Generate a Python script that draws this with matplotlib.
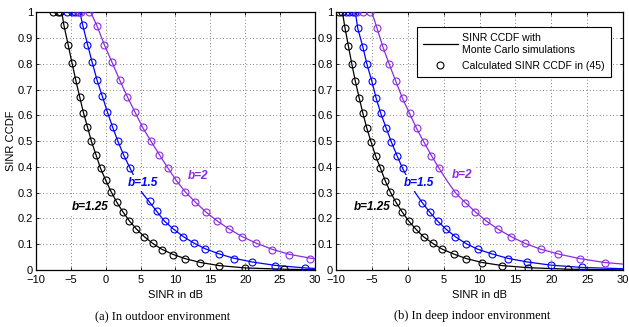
import matplotlib
matplotlib.use("Agg")
import matplotlib.pyplot as plt
from matplotlib.lines import Line2D

# ---- (a) outdoor: Monte Carlo lines ----
out_k_x = [-6.3, -6.0, -5.4, -4.85, -4.3, -3.75, -3.2, -2.6, -2.05, -1.4, -0.75, 0.0, 0.75, 1.6, 2.5, 3.4, 4.4, 5.5, 6.7, 8.0, 9.6, 11.4, 13.6, 16.3, 20.0, 25.5, 30.0]
out_k_y = [1.0, 0.95, 0.875, 0.805, 0.737, 0.673, 0.611, 0.553, 0.499, 0.447, 0.395, 0.348, 0.305, 0.262, 0.224, 0.19, 0.159, 0.13, 0.104, 0.081, 0.061, 0.044, 0.029, 0.017, 0.008, 0.003, 0.001]
out_b_x = [-3.7, -3.3, -2.6, -1.95, -1.25, -0.5, 0.25, 1.0, 1.75, 2.55, 3.45, 4.4, 5.2, 6.2, 7.3, 8.4, 9.7, 11.1, 12.6, 14.3, 16.2, 18.3, 21.0, 24.3, 28.6, 30.0]
out_b_y = [1.0, 0.95, 0.874, 0.806, 0.737, 0.675, 0.612, 0.553, 0.499, 0.447, 0.397, 0.345, 0.30, 0.266, 0.228, 0.19, 0.159, 0.13, 0.105, 0.082, 0.063, 0.046, 0.031, 0.018, 0.008, 0.006]
out_p_x = [-2.15, -1.25, -0.2, 0.9, 2.0, 3.1, 4.2, 5.3, 6.5, 7.7, 8.9, 10.1, 11.4, 12.9, 14.4, 16.0, 17.7, 19.6, 21.6, 23.9, 26.3, 29.3, 30.0]
out_p_y = [1.0, 0.947, 0.874, 0.806, 0.737, 0.672, 0.612, 0.553, 0.499, 0.447, 0.396, 0.348, 0.303, 0.262, 0.224, 0.19, 0.159, 0.129, 0.104, 0.08, 0.061, 0.046, 0.044]

# ---- (a) outdoor: calculated circles ----
out_kc_x = [-7.57, -6.86, -6.57, -6.0, -5.38, -4.86, -4.33, -3.76, -3.19, -2.62, -2.05, -1.38, -0.71, 0.05, 0.76, 1.57, 2.48, 3.38, 4.38, 5.52, 6.71, 8.05, 9.62, 11.43, 13.57, 16.3, 20.0, 25.5]
out_kc_y = [1.0, 1.0, 1.0, 0.949, 0.875, 0.805, 0.737, 0.673, 0.611, 0.553, 0.499, 0.447, 0.396, 0.348, 0.303, 0.262, 0.224, 0.19, 0.159, 0.129, 0.103, 0.079, 0.06, 0.042, 0.027, 0.016, 0.008, 0.003]
out_bc_x = [-5.5, -4.86, -4.43, -3.95, -3.33, -2.62, -1.95, -1.24, -0.48, 0.24, 1.0, 1.76, 2.57, 3.5, 6.33, 7.38, 8.48, 9.76, 11.1, 12.62, 14.29, 16.19, 18.33, 20.95, 24.29, 28.57]
out_bc_y = [1.0, 1.0, 1.0, 1.0, 0.949, 0.874, 0.806, 0.737, 0.675, 0.612, 0.553, 0.499, 0.447, 0.397, 0.266, 0.228, 0.19, 0.159, 0.129, 0.105, 0.081, 0.061, 0.043, 0.03, 0.017, 0.009]
out_pc_x = [-3.9, -3.57, -2.38, -1.24, -0.19, 0.9, 2.0, 3.1, 4.19, 5.33, 6.48, 7.67, 8.9, 10.1, 11.43, 12.86, 14.43, 15.95, 17.67, 19.57, 21.57, 23.86, 26.33, 29.3]
out_pc_y = [1.0, 1.0, 1.0, 0.947, 0.874, 0.806, 0.737, 0.672, 0.612, 0.553, 0.499, 0.447, 0.396, 0.348, 0.303, 0.262, 0.224, 0.19, 0.159, 0.129, 0.103, 0.079, 0.06, 0.042]

# ---- (b) deep indoor: Monte Carlo lines ----
in_k_x = [-9.1, -8.75, -8.27, -7.8, -7.3, -6.78, -6.25, -5.7, -5.1, -4.5, -3.8, -3.15, -2.45, -1.65, -0.8, 0.1, 1.15, 2.2, 3.5, 4.8, 6.4, 8.2, 10.4, 13.2, 16.8, 22.4, 30.0]
in_k_y = [1.0, 0.94, 0.869, 0.80, 0.732, 0.669, 0.608, 0.55, 0.496, 0.444, 0.395, 0.347, 0.304, 0.263, 0.226, 0.191, 0.158, 0.129, 0.103, 0.081, 0.062, 0.044, 0.029, 0.017, 0.009, 0.003, 0.0005]
in_b_x = [-7.3, -6.97, -6.27, -5.7, -5.0, -4.4, -3.76, -3.0, -2.27, -1.5, -0.73, 0.2, 1.05, 2.0, 3.05, 4.15, 5.35, 6.65, 8.15, 9.8, 11.8, 14.0, 16.7, 19.9, 24.2, 30.0]
in_b_y = [1.0, 0.938, 0.867, 0.80, 0.732, 0.666, 0.608, 0.55, 0.496, 0.444, 0.395, 0.345, 0.30, 0.262, 0.225, 0.19, 0.158, 0.129, 0.102, 0.08, 0.062, 0.045, 0.031, 0.019, 0.01, 0.005]
in_p_x = [-5.0, -4.3, -3.48, -2.6, -1.66, -0.73, 0.25, 1.22, 2.26, 3.3, 4.36, 5.5, 6.64, 8.0, 9.45, 10.95, 12.6, 14.45, 16.35, 18.5, 21.0, 24.0, 27.5, 30.0]
in_p_y = [1.0, 0.94, 0.867, 0.80, 0.732, 0.666, 0.608, 0.55, 0.496, 0.444, 0.395, 0.345, 0.30, 0.262, 0.225, 0.19, 0.158, 0.129, 0.103, 0.081, 0.062, 0.044, 0.029, 0.023]

# ---- (b) deep indoor: calculated circles ----
in_kc_x = [-9.54, -9.12, -8.74, -8.27, -7.8, -7.3, -6.78, -6.25, -5.7, -5.1, -4.49, -3.8, -3.15, -2.45, -1.66, -0.82, 0.11, 1.14, 2.2, 3.47, 4.78, 6.41, 8.18, 10.38, 13.17, 16.76, 22.35]
in_kc_y = [1.0, 1.0, 0.94, 0.869, 0.80, 0.732, 0.669, 0.608, 0.55, 0.496, 0.444, 0.395, 0.347, 0.304, 0.263, 0.226, 0.191, 0.158, 0.129, 0.103, 0.081, 0.062, 0.043, 0.028, 0.017, 0.009, 0.003]
in_bc_x = [-8.6, -8.13, -7.7, -7.4, -6.97, -6.27, -5.71, -5.01, -4.41, -3.76, -3.02, -2.27, -1.52, -0.73, 1.99, 3.05, 4.17, 5.34, 6.64, 8.14, 9.81, 11.77, 13.96, 16.67, 19.93, 24.22]
in_bc_y = [1.0, 1.0, 1.0, 1.0, 0.938, 0.867, 0.80, 0.732, 0.666, 0.608, 0.55, 0.496, 0.444, 0.395, 0.261, 0.224, 0.19, 0.158, 0.129, 0.101, 0.08, 0.061, 0.043, 0.03, 0.018, 0.01]
in_pc_x = [-7.1, -6.18, -5.24, -4.31, -3.48, -2.59, -1.66, -0.73, 0.25, 1.22, 2.26, 3.29, 4.36, 6.64, 8.04, 9.44, 10.94, 12.62, 14.44, 16.34, 18.53, 21.01, 23.99, 27.53]
in_pc_y = [1.0, 1.0, 1.0, 0.94, 0.867, 0.80, 0.732, 0.666, 0.608, 0.55, 0.496, 0.444, 0.395, 0.30, 0.261, 0.224, 0.19, 0.158, 0.129, 0.103, 0.08, 0.061, 0.043, 0.028]

xticks = [-10, -5, 0, 5, 10, 15, 20, 25, 30]
yticks = [0, 0.1, 0.2, 0.3, 0.4, 0.5, 0.6, 0.7, 0.8, 0.9, 1]
ytick_labels = ["0", "0.1", "0.2", "0.3", "0.4", "0.5", "0.6", "0.7", "0.8", "0.9", "1"]

BLACK = "black"
BLUE = "#0000ff"
PURPLE = "#8a2be2"

plt.rcParams['font.family'] = ['Liberation Sans', 'DejaVu Sans']

fig = plt.figure(figsize=(6.29, 3.27), dpi=100)
axL = fig.add_axes([36 / 629, 57 / 327, 279 / 629, 257.7 / 327])
axR = fig.add_axes([336 / 629, 57 / 327, 287 / 629, 257.7 / 327])


def draw(ax, lines, circles):
    for (lx, ly, c) in lines:
        ax.plot(lx, ly, color=c, lw=0.9, zorder=3)
    for (cx, cy, c) in circles:
        ax.plot(cx, cy, ls="none", marker="o", ms=5, mfc="none", mec=c, mew=0.8, zorder=3)
    ax.set_xlim(-10, 30)
    ax.set_ylim(0, 1)
    ax.set_xticks(xticks)
    ax.set_xticklabels(["\u2212" + str(-t) if t < 0 else str(t) for t in xticks])
    ax.set_yticks(yticks)
    ax.set_yticklabels(ytick_labels)
    ax.tick_params(direction="in", length=2.5, width=0.6, labelsize=8, pad=2,
                   top=True, right=True)
    ax.tick_params(axis="x", pad=3.5)
    ax.grid(True, ls=(0, (1, 3)), color="#555555", lw=0.6)
    for s in ax.spines.values():
        s.set_linewidth(0.9)
    ax.set_xlabel("SINR in dB", fontsize=8, labelpad=4)


draw(axL,
     [(out_k_x, out_k_y, BLACK), (out_b_x, out_b_y, BLUE), (out_p_x, out_p_y, PURPLE)],
     [(out_kc_x, out_kc_y, BLACK), (out_bc_x, out_bc_y, BLUE), (out_pc_x, out_pc_y, PURPLE)])
draw(axR,
     [(in_k_x, in_k_y, BLACK), (in_b_x, in_b_y, BLUE), (in_p_x, in_p_y, PURPLE)],
     [(in_kc_x, in_kc_y, BLACK), (in_bc_x, in_bc_y, BLUE), (in_pc_x, in_pc_y, PURPLE)])

axL.set_ylabel("SINR CCDF", fontsize=8, labelpad=1)

lab = dict(fontsize=8.5, fontweight="bold", fontstyle="italic", ha="center", va="center", zorder=5,
           bbox=dict(facecolor="white", edgecolor="none", pad=1.5))
axL.text(-2.2, 0.245, "b=1.25", color=BLACK, **lab)
axL.text(5.3, 0.337, "b=1.5", color=BLUE, **lab)
axL.text(13.3, 0.366, "b=2", color=PURPLE, **lab)
axR.text(-4.9, 0.243, "b=1.25", color=BLACK, **lab)
axR.text(1.5, 0.338, "b=1.5", color=BLUE, **lab)
axR.text(7.5, 0.37, "b=2", color=PURPLE, **lab)

handles = [Line2D([], [], color="black", lw=0.9),
           Line2D([], [], ls="none", marker="o", ms=5, mfc="none", mec="black", mew=0.8)]
leg = axR.legend(handles, ["SINR CCDF with\nMonte Carlo simulations", "Calculated SINR CCDF in (45)"],
                 loc="upper right", bbox_to_anchor=(0.958, 0.943), fontsize=7.6, frameon=True,
                 fancybox=False, framealpha=1, edgecolor="black", handlelength=3.3,
                 handletextpad=0.4, borderpad=0.6, labelspacing=0.55, borderaxespad=0)
leg.get_frame().set_linewidth(0.8)

fig.text(163 / 629, 11 / 327, "(a) In outdoor environment", ha="center", va="center",
         fontsize=9, family=["Liberation Serif", "DejaVu Serif"])
fig.text(472 / 629, 11 / 327, "(b) In deep indoor environment", ha="center", va="center",
         fontsize=9, family=["Liberation Serif", "DejaVu Serif"])

fig.savefig("out.png", dpi=100)
